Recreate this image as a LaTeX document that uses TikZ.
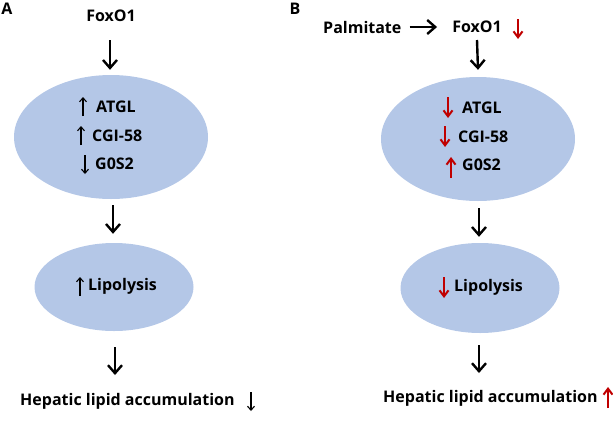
\documentclass[tikz,border=0pt]{standalone}
\usepackage{fontspec}
\setmainfont{Open Sans}
\usetikzlibrary{arrows.meta}
\usetikzlibrary{shapes.geometric}
\definecolor{cellblue}{HTML}{B4C7E7}
\definecolor{darkred}{HTML}{C00000}
\tikzset{
  lbl/.style={font=\fontsize{16}{18}\selectfont\bfseries, inner sep=0pt},
  panel/.style={font=\fontsize{16}{18}\selectfont\bfseries, inner sep=0pt},
  blob/.style={ellipse, fill=cellblue, inner sep=0pt},
  flow/.style={line width=2.4pt, -{Straight Barb[length=8pt,width=14pt]}},
  thin up/.style={line width=1.1pt, -{Straight Barb[length=4pt,width=7pt]}},
  red up/.style={darkred, line width=2pt, -{Straight Barb[length=6pt,width=9pt]}}
}
\begin{document}
\begin{tikzpicture}[x=1pt,y=-1pt]
  \useasboundingbox (0,0) rectangle (613,421);
  % panel A
  \node[panel] (labA) at (7,9) {A};
  \node[lbl] (foxA) at (111,16) {FoxO1};
  \node[blob, minimum width=194, minimum height=124] (ellA) at (111,137) {};
  \node[lbl, anchor=west] (atglA) at (96,107) {ATGL};
  \node[lbl, anchor=west] (cgiA) at (92,136) {CGI-58};
  \node[lbl, anchor=west] (gosA) at (95,164) {G0S2};
  \draw[thin up] (83,116) -- (83,97);
  \draw[thin up] (81,145) -- (81,126);
  \draw[thin up] (85,155) -- (85,174);
  \node[blob, minimum width=159, minimum height=88] (lipA) at (114,287) {};
  \node[lbl, anchor=west] (lypA) at (88,286) {Lipolysis};
  \draw[thin up] (80,296) -- (80,277);
  \node[lbl, anchor=west] (hepA) at (20,401) {Hepatic lipid accumulation};
  \draw[thin up] (251,392) -- (251,411);
  \coordinate (hepTopA) at (hepA.center -| lipA.south);
  \draw[flow] ([yshift=-24,xshift=-1]foxA.center) -- ([yshift=5,xshift=-1]ellA.north);
  \draw[flow] ([yshift=-6,xshift=2]ellA.south) -- ([yshift=9,xshift=-1]lipA.north);
  \draw[flow] ([yshift=-16,xshift=1]lipA.south) -- ([yshift=26,xshift=1]hepTopA);
  % panel B
  \node[panel] (labB) at (295,9) {B};
  \node[lbl, anchor=west] (palB) at (323,27) {Palmitate};
  \node[lbl] (foxB) at (477,27) {FoxO1};
  \draw[red up] (518,19) -- (518,39);
  \draw[flow] ([xshift=8]palB.east) -- ([xshift=-15]foxB.west);
  \node[blob, minimum width=194, minimum height=124] (ellB) at (478,139) {};
  \node[lbl, anchor=west] (atglB) at (462,108) {ATGL};
  \node[lbl, anchor=west] (cgiB) at (458,137) {CGI-58};
  \node[lbl, anchor=west] (gosB) at (462,165) {G0S2};
  \draw[red up] (448,97) -- (448,118);
  \draw[red up] (445,126) -- (445,147);
  \draw[red up] (451,178) -- (451,157);
  \node[blob, minimum width=159, minimum height=90] (lipB) at (480,288) {};
  \node[lbl, anchor=west] (lypB) at (454,287) {Lipolysis};
  \draw[red up] (444,277) -- (444,298);
  \node[lbl, anchor=west] (hepB) at (383,398) {Hepatic lipid accumulation};
  \draw[red up] (608,408) -- (608,387);
  \coordinate (hepTopB) at (hepB.center -| lipB.south);
  \draw[flow] ([yshift=-13]foxB.center) -- ([yshift=7]ellB.north);
  \draw[flow] ([yshift=-7,xshift=1]ellB.south) -- ([yshift=6,xshift=-1]lipB.north);
  \draw[flow] ([yshift=-12,xshift=-1]lipB.south) -- ([yshift=25,xshift=-1]hepTopB);
\end{tikzpicture}
\end{document}
